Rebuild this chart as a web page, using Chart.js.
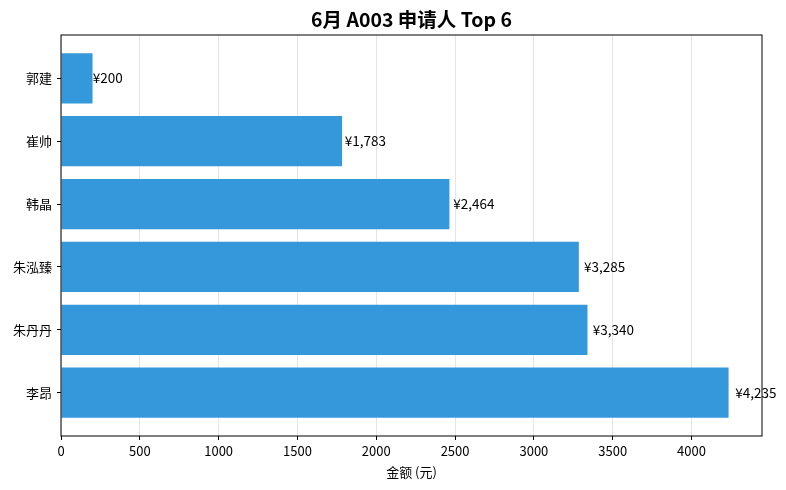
<!DOCTYPE html>
<html>

<head>
    <title>6月 A003 申请人 Top 6</title>
    <style>
        html, body {
            margin: 0;
            padding: 0;
            background: #fff;
        }

        .chart-container {
            width: 786px;
            height: 490px;
        }
    </style>
</head>

<body>
    <div class="chart-container">
        <canvas id="bar-chart"></canvas>
    </div>

    <script src="https://cdn.jsdelivr.net/npm/chart.js"></script>

    <script>
        // bottom to top, like the original axis
        const names = ['李昂', '朱丹丹', '朱泓臻', '韩晶', '崔帅', '郭建'];
        const amounts = [4235, 3340, 3285, 2464, 1783, 200];
        const xTicks = [0, 500, 1000, 1500, 2000, 2500, 3000, 3500, 4000];

        const FONT = '"Noto Sans CJK SC", "Noto Sans", sans-serif';

        // frame, title and value labels
        const extras = {
            id: 'extras',
            afterDatasetsDraw(chart) {
                const ctx = chart.ctx;
                const x = chart.scales.x;
                const y = chart.scales.y;
                ctx.save();
                ctx.font = '13.5px ' + FONT;
                ctx.fillStyle = '#000';
                ctx.textAlign = 'left';
                ctx.textBaseline = 'middle';
                amounts.forEach((v, i) => {
                    const label = '¥' + v.toLocaleString('en-US');
                    ctx.fillText(label, x.getPixelForValue(v * 1.01), y.getPixelForValue(i));
                });
                ctx.restore();
            },
            afterDraw(chart) {
                const ctx = chart.ctx;
                const a = chart.chartArea;
                ctx.save();
                ctx.strokeStyle = '#000';
                ctx.lineWidth = 1;
                ctx.strokeRect(a.left, a.top, a.right - a.left, a.bottom - a.top);
                ctx.font = 'bold 19.5px ' + FONT;
                ctx.fillStyle = '#000';
                ctx.textAlign = 'center';
                ctx.textBaseline = 'middle';
                ctx.fillText('6月 A003 申请人 Top 6', (a.left + a.right) / 2, 20);
                ctx.restore();
            }
        };

        const ctx = document.getElementById('bar-chart').getContext('2d');
        new Chart(ctx, {
            type: 'bar',
            data: {
                datasets: [
                    {
                        label: '金额',
                        data: amounts.map((v, i) => ({ x: v, y: i })),
                        backgroundColor: '#3498db',
                        borderWidth: 0,
                        barPercentage: 0.8,
                        categoryPercentage: 1.0,
                    },
                ],
            },
            options: {
                indexAxis: 'y',
                responsive: true,
                maintainAspectRatio: false,
                animation: false,
                layout: {
                    padding: { left: 0, top: 35, right: 24, bottom: 10 },
                },
                scales: {
                    x: {
                        type: 'linear',
                        min: 0,
                        max: 4447,
                        z: 1,
                        afterBuildTicks: (axis) => {
                            axis.ticks = xTicks.map((t) => ({ value: t }));
                        },
                        afterFit: (axis) => {
                            axis.height = 44;
                        },
                        grid: {
                            color: 'rgba(0, 0, 0, 0.1)',
                            tickColor: '#000',
                            tickLength: 4,
                        },
                        border: { display: false },
                        ticks: {
                            color: '#000',
                            font: { family: FONT, size: 13 },
                            padding: 3,
                            maxRotation: 0,
                            callback: (value) => String(value),
                        },
                        title: {
                            display: true,
                            text: '金额 (元)',
                            color: '#000',
                            font: { family: FONT, size: 13 },
                            padding: { top: 2, bottom: 0 },
                        },
                    },
                    y: {
                        type: 'linear',
                        min: -0.69,
                        max: 5.69,
                        offset: false,
                        afterBuildTicks: (axis) => {
                            axis.ticks = names.map((n, i) => ({ value: i }));
                        },
                        afterFit: (axis) => {
                            axis.width = 61;
                        },
                        grid: {
                            offset: false,
                            drawOnChartArea: false,
                            tickColor: '#000',
                            tickLength: 4,
                        },
                        border: { display: false },
                        ticks: {
                            color: '#000',
                            font: { family: FONT, size: 13 },
                            padding: 5,
                            callback: (value) => names[value],
                        },
                    },
                },
                plugins: {
                    legend: { display: false },
                    title: { display: false },
                    tooltip: { enabled: false },
                },
            },
            plugins: [extras],
        });
    </script>
</body>

</html>
